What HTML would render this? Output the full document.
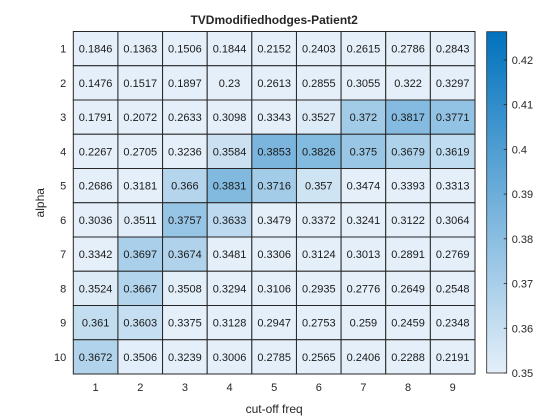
<!DOCTYPE html>
<html><head><meta charset="utf-8"><style>
html,body{margin:0;padding:0;background:#fff;}
svg{display:block;font-family:"Liberation Sans",Arial,sans-serif;}
</style></head><body>
<svg id="chart" width="560" height="420"></svg>
<script>
const xLabels = ['1','2','3','4','5','6','7','8','9'];
const yLabels = ['1','2','3','4','5','6','7','8','9','10'];
const row1 = [0.1846,0.1363,0.1506,0.1844,0.2152,0.2403,0.2615,0.2786,0.2843];
const row2 = [0.1476,0.1517,0.1897,0.23,0.2613,0.2855,0.3055,0.322,0.3297];
const row3 = [0.1791,0.2072,0.2633,0.3098,0.3343,0.3527,0.372,0.3817,0.3771];
const row4 = [0.2267,0.2705,0.3236,0.3584,0.3853,0.3826,0.375,0.3679,0.3619];
const row5 = [0.2686,0.3181,0.366,0.3831,0.3716,0.357,0.3474,0.3393,0.3313];
const row6 = [0.3036,0.3511,0.3757,0.3633,0.3479,0.3372,0.3241,0.3122,0.3064];
const row7 = [0.3342,0.3697,0.3674,0.3481,0.3306,0.3124,0.3013,0.2891,0.2769];
const row8 = [0.3524,0.3667,0.3508,0.3294,0.3106,0.2935,0.2776,0.2649,0.2548];
const row9 = [0.361,0.3603,0.3375,0.3128,0.2947,0.2753,0.259,0.2459,0.2348];
const row10 = [0.3672,0.3506,0.3239,0.3006,0.2785,0.2565,0.2406,0.2288,0.2191];
const colorTicks = [0.35,0.36,0.37,0.38,0.39,0.4,0.41,0.42];
const cMin = 0.35, cMax = 0.4263;

const rows=[row1,row2,row3,row4,row5,row6,row7,row8,row9,row10];
const NS='http://www.w3.org/2000/svg';
const svg=document.getElementById('chart');
const L=73.3,R=475,T=31.5,B=374;
const cw=(R-L)/xLabels.length, ch=(B-T)/yLabels.length;
const xPos=i=>L+i*cw, yPos=j=>T+j*ch;
function color(v){let t=(v-cMin)/(cMax-cMin);t=Math.max(0,Math.min(1,t));
 const a=[228,239,249],b=[0,114,189];
 return 'rgb('+a.map((c,k)=>Math.round(c+(b[k]-c)*t)).join(',')+')';}
function el(tag,attrs,txt){const e=document.createElementNS(NS,tag);for(const k in attrs)e.setAttribute(k,attrs[k]);if(txt!==undefined)e.textContent=txt;svg.appendChild(e);return e;}
function fmt(v){return String(v);}

rows.forEach((r,j)=>r.forEach((v,i)=>{
 const c=el('rect',{x:xPos(i),y:yPos(j),width:cw,height:ch,fill:color(v),stroke:'#262626','stroke-width':1});
 
 
 const t=el('text',{x:xPos(i)+cw/2,y:yPos(j)+ch/2+4,'text-anchor':'middle','font-size':'11px',fill:'#1a1a1a'},fmt(v));
 
 
}));
xLabels.forEach((s,i)=>{const t=el('text',{x:xPos(i)+cw/2,y:B+17,'text-anchor':'middle','font-size':'11px',fill:'#262626'},s);
 
 });
yLabels.forEach((s,j)=>{const t=el('text',{x:L-7,y:yPos(j)+ch/2+4,'text-anchor':'end','font-size':'11px',fill:'#262626'},s);
 
 });
const xt=el('text',{x:(L+R)/2,y:413,'text-anchor':'middle','font-size':'12px',fill:'#262626'},'cut-off freq');


const yt=el('text',{x:0,y:0,transform:'translate(44,'+((T+B)/2)+') rotate(-90)','text-anchor':'middle','font-size':'12px',fill:'#262626'},'alpha');


const tt=el('text',{x:(L+R)/2,y:24,'text-anchor':'middle','font-size':'12px','font-weight':'bold',fill:'#262626'},'TVDmodifiedhodges-Patient2');



// colorbar
const cbL=486.7,cbR=506.7,cbT=31.7,cbB=373;
const defs=el('defs',{});
const g=document.createElementNS(NS,'linearGradient');g.setAttribute('id','cbg');g.setAttribute('x1','0');g.setAttribute('y1','1');g.setAttribute('x2','0');g.setAttribute('y2','0');
defs.appendChild(g);
[0,1].forEach(o=>{const s=document.createElementNS(NS,'stop');s.setAttribute('offset',o);s.setAttribute('stop-color',color(cMin+o*(cMax-cMin)));g.appendChild(s);});
const cb=el('rect',{x:cbL,y:cbT,width:cbR-cbL,height:cbB-cbT,fill:'url(#cbg)',stroke:'#262626','stroke-width':0.8});


const cy=v=>cbB-(v-cMin)/(cMax-cMin)*(cbB-cbT);
colorTicks.forEach(v=>{
 el('line',{x1:cbR-3,x2:cbR,y1:cy(v),y2:cy(v),stroke:'#262626','stroke-width':0.8});
 const t=el('text',{x:cbR+5,y:cy(v)+4,'font-size':'11px',fill:'#262626'},String(v));
 
 
});
</script>
</body></html>
